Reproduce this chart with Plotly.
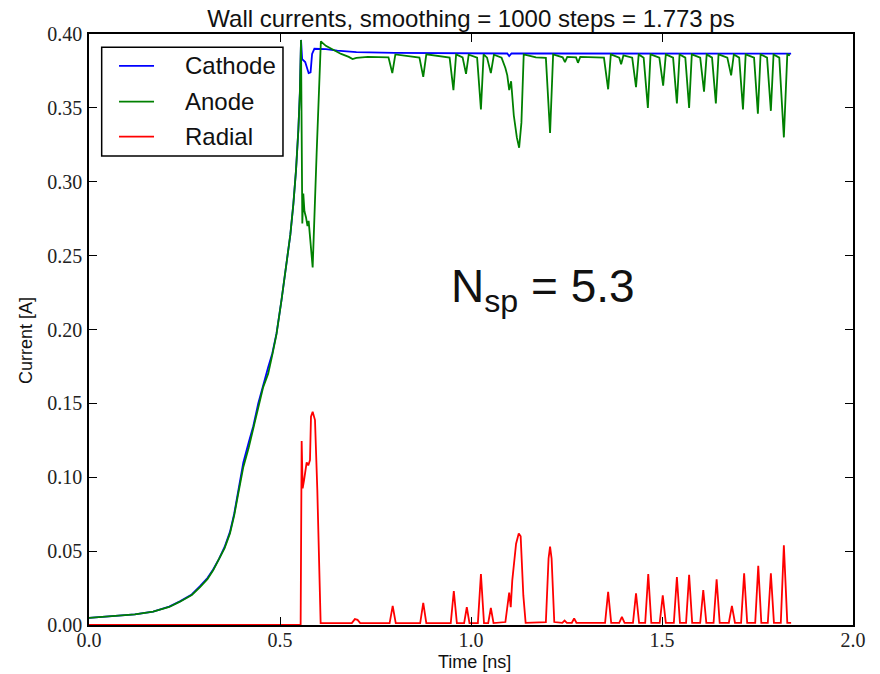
import plotly.graph_objects as go

# Time axis [ns] and wall currents [A]
cathode_t = [0.000, 0.040, 0.080, 0.120, 0.168, 0.210, 0.238, 0.269, 0.290, 0.310,
             0.325, 0.340, 0.355, 0.369, 0.380, 0.390, 0.404, 0.418, 0.430, 0.443,
             0.456, 0.462, 0.469, 0.480, 0.491, 0.504, 0.5175, 0.527, 0.535, 0.542,
             0.548, 0.552, 0.555, 0.558, 0.566, 0.571, 0.575, 0.580, 0.584, 0.590,
             0.620, 0.650, 0.700, 0.800, 0.900, 1.000, 1.095, 1.100, 1.106, 1.200,
             1.300, 1.400, 1.500, 1.600, 1.700, 1.800, 1.838]
cathode_i = [0.0048, 0.0055, 0.0064, 0.0072, 0.0091, 0.0124, 0.0160, 0.0207, 0.0262, 0.0318,
             0.0376, 0.0446, 0.0528, 0.0630, 0.0752, 0.0900, 0.1100, 0.1235, 0.1345, 0.1500,
             0.1630, 0.1680, 0.1745, 0.1840, 0.1975, 0.2200, 0.2450, 0.2640, 0.2850, 0.3080,
             0.3350, 0.3600, 0.3960, 0.3830, 0.3810, 0.3760, 0.3735, 0.3740, 0.3865, 0.3900,
             0.3898, 0.3888, 0.3878, 0.3872, 0.3870, 0.3869, 0.3868, 0.3850, 0.3868, 0.3868,
             0.3867, 0.3867, 0.3868, 0.3867, 0.3868, 0.3867, 0.3867]

anode_t = [0.000, 0.040, 0.080, 0.120, 0.168, 0.210, 0.238, 0.269, 0.290, 0.310,
           0.325, 0.340, 0.355, 0.369, 0.380, 0.390, 0.404, 0.418, 0.430, 0.443,
           0.456, 0.469, 0.480, 0.491, 0.504, 0.5175, 0.527, 0.535, 0.542, 0.548,
           0.552, 0.555, 0.5584, 0.5610, 0.5640, 0.5680, 0.5720, 0.5750, 0.5785, 0.5820,
           0.5855, 0.5960, 0.6070, 0.6200, 0.6400, 0.6600, 0.6800, 0.6900, 0.7000, 0.7300,
           0.7840, 0.7940, 0.8020, 0.8650, 0.8750, 0.8830, 0.9440, 0.9540, 0.9610, 0.9780,
           0.9870, 0.9940, 1.0160, 1.0260, 1.0330, 1.0420, 1.0520, 1.0600, 1.0800, 1.0900,
           1.0950, 1.1000, 1.1050, 1.1120, 1.1200, 1.1260, 1.1320, 1.1380, 1.1700, 1.1960,
           1.2070, 1.2150, 1.2400, 1.2460, 1.2520, 1.2750, 1.2800, 1.2860, 1.3480, 1.3590,
           1.3660, 1.3880, 1.3930, 1.3990, 1.4220, 1.4320, 1.4390, 1.4520, 1.4630, 1.4700,
           1.4930, 1.5030, 1.5100, 1.5290, 1.5390, 1.5460, 1.5610, 1.5710, 1.5780, 1.6000,
           1.6100, 1.6170, 1.6310, 1.6410, 1.6480, 1.6710, 1.6810, 1.6880, 1.7020, 1.7120,
           1.7190, 1.7410, 1.7510, 1.7580, 1.7750, 1.7850, 1.7920, 1.8070, 1.8190, 1.8280,
           1.8350]
anode_i = [0.0048, 0.0055, 0.0063, 0.0072, 0.0090, 0.0122, 0.0158, 0.0203, 0.0255, 0.0310,
           0.0370, 0.0440, 0.0520, 0.0620, 0.0740, 0.0880, 0.1070, 0.1200, 0.1320, 0.1470,
           0.1610, 0.1700, 0.1830, 0.1970, 0.2200, 0.2450, 0.2640, 0.2850, 0.3080, 0.3350,
           0.3600, 0.3960, 0.2718, 0.2920, 0.2800, 0.2760, 0.2700, 0.2735, 0.2627, 0.2560,
           0.2420, 0.3200, 0.3950, 0.3920, 0.3890, 0.3865, 0.3845, 0.3830, 0.3838, 0.3845,
           0.3842, 0.3735, 0.3862, 0.3840, 0.3710, 0.3862, 0.3840, 0.3620, 0.3862, 0.3842,
           0.3730, 0.3860, 0.3840, 0.3490, 0.3862, 0.3840, 0.3735, 0.3860, 0.3840, 0.3770,
           0.3720, 0.3620, 0.3680, 0.3450, 0.3300, 0.3230, 0.3400, 0.3862, 0.3842, 0.3838,
           0.3330, 0.3862, 0.3842, 0.3810, 0.3845, 0.3842, 0.3805, 0.3845, 0.3840, 0.3626,
           0.3862, 0.3840, 0.3795, 0.3855, 0.3840, 0.3640, 0.3862, 0.3840, 0.3500, 0.3862,
           0.3840, 0.3650, 0.3862, 0.3840, 0.3530, 0.3862, 0.3840, 0.3500, 0.3862, 0.3840,
           0.3610, 0.3862, 0.3840, 0.3530, 0.3862, 0.3840, 0.3720, 0.3862, 0.3840, 0.3490,
           0.3862, 0.3840, 0.3460, 0.3862, 0.3840, 0.3480, 0.3862, 0.3840, 0.3300, 0.3862,
           0.3855]

radial_t = [0.000, 0.5540, 0.5567, 0.5593, 0.5630, 0.5670, 0.5698, 0.5740, 0.5785, 0.5811,
            0.5855, 0.5916, 0.5977, 0.6064, 0.6880, 0.6960, 0.7030, 0.7100, 0.7870, 0.7950,
            0.8030, 0.8670, 0.8750, 0.8830, 0.9470, 0.9550, 0.9630, 0.9820, 0.9890, 0.9960,
            1.0180, 1.0260, 1.0340, 1.0450, 1.0520, 1.0590, 1.0900, 1.0980, 1.1000, 1.1040,
            1.1080, 1.1180, 1.1250, 1.1300, 1.1370, 1.1430, 1.1960, 1.2030, 1.2070, 1.2110,
            1.2180, 1.2390, 1.2450, 1.2510, 1.2640, 1.2700, 1.2760, 1.3510, 1.3590, 1.3670,
            1.3880, 1.3950, 1.4020, 1.4240, 1.4320, 1.4400, 1.4560, 1.4640, 1.4720, 1.4940,
            1.5020, 1.5100, 1.5310, 1.5390, 1.5470, 1.5630, 1.5710, 1.5790, 1.6000, 1.6080,
            1.6160, 1.6350, 1.6430, 1.6510, 1.6750, 1.6830, 1.6910, 1.7070, 1.7150, 1.7230,
            1.7440, 1.7520, 1.7600, 1.7770, 1.7850, 1.7930, 1.8110, 1.8190, 1.8280, 1.8380]
radial_i = [0.0000, 0.0000, 0.1245, 0.0925, 0.0980, 0.1060, 0.1100, 0.1080, 0.1116, 0.1410,
            0.1443, 0.1387, 0.0913, 0.0013, 0.0013, 0.0040, 0.0035, 0.0013, 0.0013, 0.0130,
            0.0013, 0.0013, 0.0150, 0.0013, 0.0013, 0.0230, 0.0013, 0.0013, 0.0120, 0.0013,
            0.0013, 0.0345, 0.0013, 0.0013, 0.0115, 0.0013, 0.0020, 0.0180, 0.0220, 0.0120,
            0.0300, 0.0550, 0.0620, 0.0600, 0.0200, 0.0015, 0.0020, 0.0450, 0.0530, 0.0450,
            0.0020, 0.0015, 0.0030, 0.0015, 0.0015, 0.0045, 0.0015, 0.0015, 0.0225, 0.0015,
            0.0015, 0.0055, 0.0015, 0.0015, 0.0215, 0.0015, 0.0015, 0.0345, 0.0015, 0.0015,
            0.0200, 0.0015, 0.0015, 0.0325, 0.0015, 0.0015, 0.0340, 0.0015, 0.0015, 0.0237,
            0.0015, 0.0015, 0.0310, 0.0015, 0.0015, 0.0130, 0.0015, 0.0015, 0.0350, 0.0015,
            0.0015, 0.0400, 0.0015, 0.0015, 0.0350, 0.0015, 0.0015, 0.0540, 0.0015, 0.0015]

x_ticks = [0.0, 0.5, 1.0, 1.5, 2.0]
y_ticks = [0.00, 0.05, 0.10, 0.15, 0.20, 0.25, 0.30, 0.35, 0.40]

series = [
    ("Cathode", cathode_t, cathode_i, "#0000ff"),
    ("Anode", anode_t, anode_i, "#008000"),
    ("Radial", radial_t, radial_i, "#ff0000"),
]

sans = "Liberation Sans, Arial, sans-serif"
serif = "Liberation Serif, Times New Roman, serif"
ink = "#111111"

fig = go.Figure()
for name, t, i, color in series:
    fig.add_trace(go.Scatter(
        x=t, y=i, mode="lines", name=name,
        line=dict(color=color, width=1.8), showlegend=False,
    ))

axis_common = dict(
    showline=True, linecolor="black", linewidth=1.5, mirror="allticks",
    ticks="inside", ticklen=8, tickwidth=1, tickcolor="black",
    showgrid=False, zeroline=False,
    tickfont=dict(family=serif, size=20, color="#222222"),
)

fig.update_layout(
    width=880, height=674,
    margin=dict(l=89, r=27, t=34, b=49),
    paper_bgcolor="white", plot_bgcolor="white",
    title=dict(
        text="Wall currents, smoothing = 1000 steps = 1.773 ps",
        font=dict(family=sans, size=24, color=ink),
        x=0.5, xref="paper", xanchor="center",
        y=0.972, yref="container", yanchor="middle",
    ),
    xaxis=dict(range=[0, 2.0], tickvals=x_ticks, tickformat=".1f",
               ticklabelstandoff=-4, **axis_common),
    yaxis=dict(range=[0, 0.40], tickvals=y_ticks, tickformat=".2f",
               ticklabelstandoff=1, **axis_common),
)

# Axis titles
fig.add_annotation(x=0.504, y=-0.0626, xref="paper", yref="paper", text="Time [ns]",
                   showarrow=False, xanchor="center", yanchor="middle",
                   font=dict(family=sans, size=18, color=ink))
fig.add_annotation(x=-0.0825, y=0.4822, xref="paper", yref="paper", text="Current [A]",
                   showarrow=False, xanchor="center", yanchor="middle", textangle=-90,
                   font=dict(family=sans, size=18, color=ink))

# Legend box with line samples and labels
fig.add_shape(type="rect", xref="paper", yref="paper",
              x0=0.0166, x1=0.2539, y0=0.7936, y1=0.9775,
              line=dict(color="black", width=1.5), fillcolor="white", layer="above")
legend_rows = [0.9459, 0.8855, 0.8262]
for (name, _, _, color), ry in zip(series, legend_rows):
    fig.add_shape(type="line", xref="paper", yref="paper",
                  x0=0.0393, x1=0.0851, y0=ry, y1=ry,
                  line=dict(color=color, width=1.8), layer="above")
    fig.add_annotation(x=0.1226, y=ry, xref="paper", yref="paper", text=name,
                       showarrow=False, xanchor="left", yanchor="middle",
                       font=dict(family=sans, size=24, color=ink))

fig.add_annotation(
    x=0.942, y=0.206, xref="x", yref="y",
    text="N<sub>sp</sub> = 5.3", showarrow=False,
    xanchor="left", yanchor="bottom",
    font=dict(family=sans, size=46, color=ink),
)

fig.write_html("out.html")
